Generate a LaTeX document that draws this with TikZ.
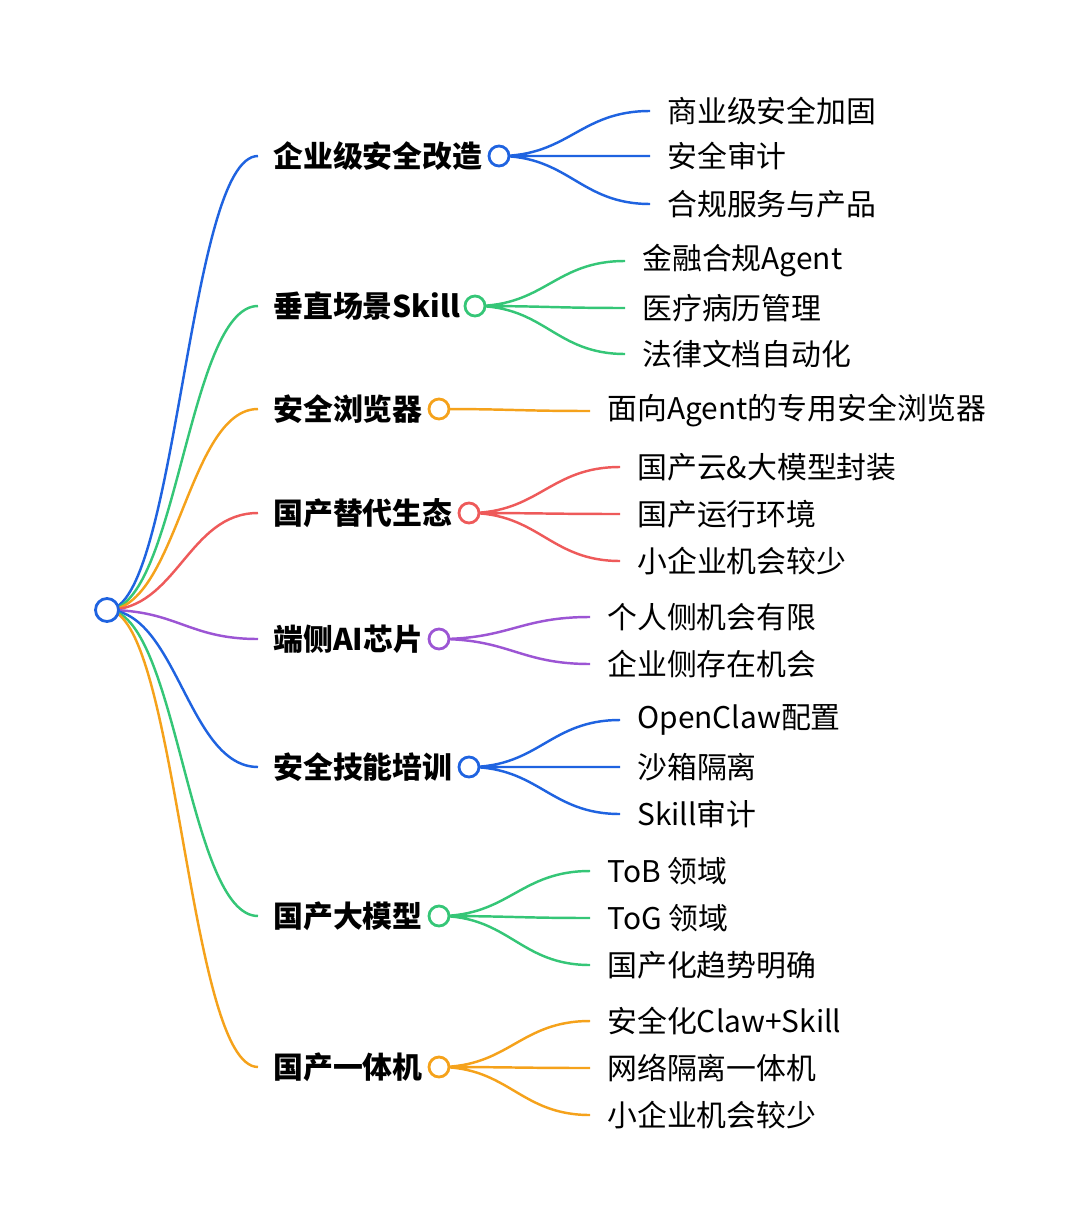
\documentclass[tikz,border=0pt]{standalone}
\usepackage{fontspec}
\setmainfont{Noto Sans CJK SC}
\usetikzlibrary{positioning}
\definecolor{cblue}{HTML}{1F63E0}
\definecolor{cgreen}{HTML}{35C677}
\definecolor{corange}{HTML}{F5A21B}
\definecolor{cred}{HTML}{EE5A5A}
\definecolor{cpurple}{HTML}{9C55D4}
\tikzset{
    knot/.style={circle, draw, fill=white, line width=1.6pt, minimum size=0.4cm, inner sep=0pt},
    branch/.style={anchor=west, inner xsep=0.3cm, font=\fontsize{17}{20}\selectfont\bfseries},
    leaf/.style={anchor=west, inner xsep=0.34cm, font=\fontsize{17}{20}\selectfont},
    link/.style={line width=1.4pt, out=0, in=180, distance=1.4cm},
}
\begin{document}
\begin{tikzpicture}[x=0.02cm, y=-0.02cm]
	\useasboundingbox (0,0) rectangle (1080,1223);
	% branches
	\node[branch] (b1) at (258,156) {企业级安全改造};
	\node[branch] (b2) at (258,306) {垂直场景Skill};
	\node[branch] (b3) at (258,409) {安全浏览器};
	\node[branch] (b4) at (258,513) {国产替代生态};
	\node[branch] (b5) at (258,639) {端侧AI芯片};
	\node[branch] (b6) at (258,767) {安全技能培训};
	\node[branch] (b7) at (258,916) {国产大模型};
	\node[branch] (b8) at (258,1067) {国产一体机};
	\draw[link, cblue] (107,610) to (b1.west);
	\draw[link, cgreen] (107,610) to (b2.west);
	\draw[link, corange] (107,610) to (b3.west);
	\draw[link, cred] (107,610) to (b4.west);
	\draw[link, cpurple] (107,610) to (b5.west);
	\draw[link, cblue] (107,610) to (b6.west);
	\draw[link, cgreen] (107,610) to (b7.west);
	\draw[link, corange] (107,610) to (b8.west);
	\node[knot, draw=cblue, minimum size=0.46cm] (root) at (107,610) {};
	% leaves
	\node[leaf] (l11) at (650,111) {商业级安全加固};
	\node[leaf] (l12) at (650,156) {安全审计};
	\node[leaf] (l13) at (650,204) {合规服务与产品};
	\node[leaf] (l21) at (625,261) {金融合规Agent};
	\node[leaf] (l22) at (625,308) {医疗病历管理};
	\node[leaf] (l23) at (625,354) {法律文档自动化};
	\node[leaf] (l31) at (590,411) {面向Agent的专用安全浏览器};
	\node[leaf] (l41) at (620,467) {国产云\&大模型封装};
	\node[leaf] (l42) at (620,514) {国产运行环境};
	\node[leaf] (l43) at (620,561) {小企业机会较少};
	\node[leaf] (l51) at (590,617) {个人侧机会有限};
	\node[leaf] (l52) at (590,664) {企业侧存在机会};
	\node[leaf] (l61) at (620,720) {OpenClaw配置};
	\node[leaf] (l62) at (620,767) {沙箱隔离};
	\node[leaf] (l63) at (620,814) {Skill审计};
	\node[leaf] (l71) at (590,871) {ToB 领域};
	\node[leaf] (l72) at (590,918) {ToG 领域};
	\node[leaf] (l73) at (590,965) {国产化趋势明确};
	\node[leaf] (l81) at (590,1021) {安全化Claw+Skill};
	\node[leaf] (l82) at (590,1068) {网络隔离一体机};
	\node[leaf] (l83) at (590,1115) {小企业机会较少};
	% knots after branch texts
	\coordinate (k1) at (499,156);
	\coordinate (k2) at (475,306);
	\coordinate (k3) at (439,409);
	\coordinate (k4) at (469,513);
	\coordinate (k5) at (439,639);
	\coordinate (k6) at (469,767);
	\coordinate (k7) at (439,916);
	\coordinate (k8) at (439,1067);
	\draw[link, cblue] (k1) to (l11.west) (k1) to (l12.west) (k1) to (l13.west);
	\draw[link, cgreen] (k2) to (l21.west) (k2) to (l22.west) (k2) to (l23.west);
	\draw[link, corange] (k3) to (l31.west);
	\draw[link, cred] (k4) to (l41.west) (k4) to (l42.west) (k4) to (l43.west);
	\draw[link, cpurple] (k5) to (l51.west) (k5) to (l52.west);
	\draw[link, cblue] (k6) to (l61.west) (k6) to (l62.west) (k6) to (l63.west);
	\draw[link, cgreen] (k7) to (l71.west) (k7) to (l72.west) (k7) to (l73.west);
	\draw[link, corange] (k8) to (l81.west) (k8) to (l82.west) (k8) to (l83.west);
	\node[knot, draw=cblue] (c1) at (k1) {};
	\node[knot, draw=cgreen] (c2) at (k2) {};
	\node[knot, draw=corange] (c3) at (k3) {};
	\node[knot, draw=cred] (c4) at (k4) {};
	\node[knot, draw=cpurple] (c5) at (k5) {};
	\node[knot, draw=cblue] (c6) at (k6) {};
	\node[knot, draw=cgreen] (c7) at (k7) {};
	\node[knot, draw=corange] (c8) at (k8) {};
\end{tikzpicture}
\end{document}
